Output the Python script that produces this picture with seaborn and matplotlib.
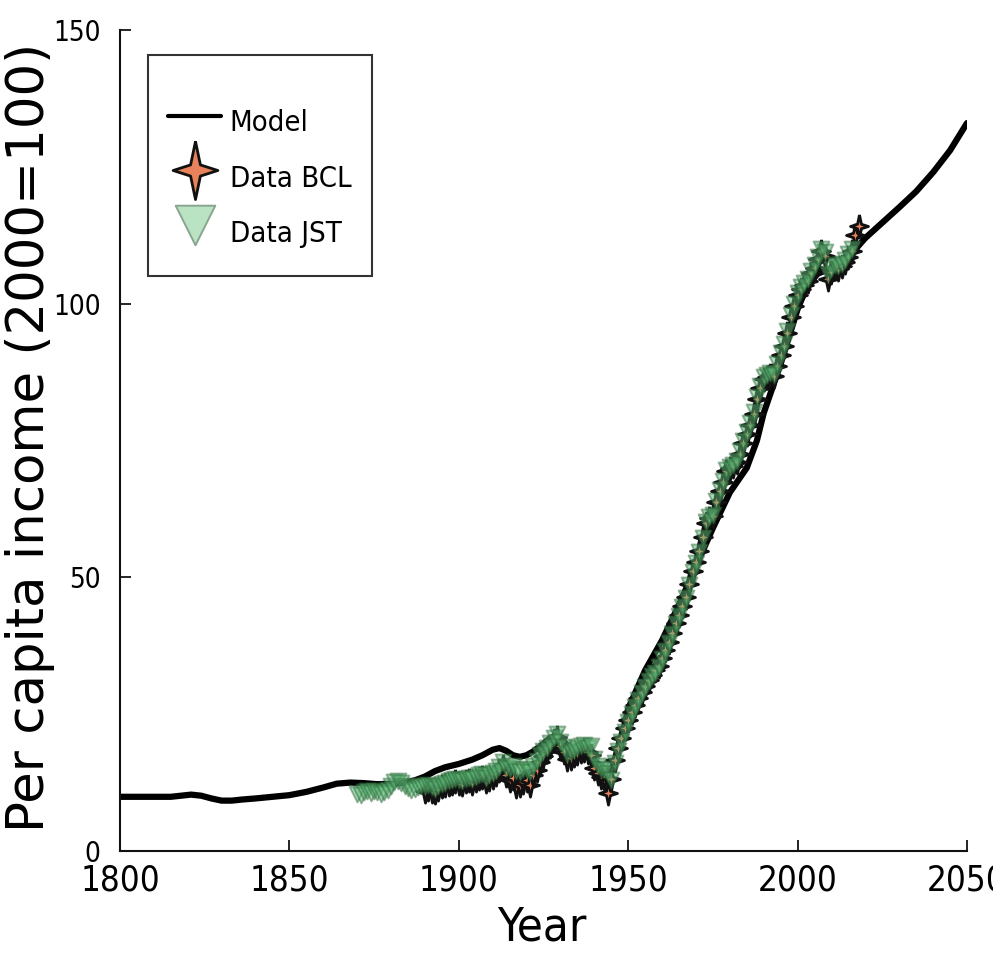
import numpy as np
import pandas as pd
import seaborn as sns
import matplotlib.pyplot as plt

# model path (year, index 2000=100)
model_years = [1800, 1805, 1810, 1815, 1818, 1821, 1824, 1827, 1830, 1833, 1836, 1840, 1845,
               1850, 1855, 1860, 1864, 1868, 1872, 1876, 1880, 1884, 1887, 1890, 1893, 1896,
               1900, 1904, 1907, 1910, 1912, 1914, 1916, 1918, 1920, 1922, 1925, 1927, 1929,
               1931, 1933, 1936, 1939, 1941, 1943, 1945, 1946, 1948, 1950, 1955, 1960, 1965,
               1970, 1975, 1980, 1985, 1988, 1990, 1995, 2000, 2003, 2006, 2010, 2015, 2020,
               2025, 2030, 2035, 2040, 2045, 2050]
model_vals = [9.9, 9.9, 9.9, 9.9, 10.1, 10.3, 10.1, 9.6, 9.2, 9.2, 9.4, 9.6, 9.9,
              10.2, 10.8, 11.6, 12.3, 12.5, 12.4, 12.2, 12.3, 12.5, 12.9, 13.6, 14.6, 15.3,
              15.9, 16.7, 17.5, 18.5, 18.8, 18.3, 17.5, 17.2, 17.5, 18.2, 19.6, 20.7, 21.0,
              20.0, 18.7, 17.8, 17.0, 16.0, 15.0, 14.8, 16.5, 20.5, 26.0, 33.0, 38.5, 45.0,
              52.0, 59.0, 65.5, 70.0, 75.0, 80.0, 89.0, 99.0, 103.5, 105.5, 106.5, 108.5, 112.0,
              114.8, 117.6, 120.5, 124.0, 128.0, 133.0]

# Jorda-Schularick-Taylor data, 1870-2016
jst_years = list(range(1870, 2017))
jst_vals = [10.5, 10.3, 10.8, 11.0, 10.6, 10.9, 10.7, 10.4, 10.8, 11.2,
            11.9, 12.6, 12.8, 12.4, 11.9, 11.5, 11.2, 11.3, 11.6, 11.9,
            11.8, 12.0, 11.6, 11.4, 11.9, 12.3, 12.5, 12.8, 13.0, 13.2,
            12.9, 12.7, 13.2, 13.4, 13.1, 13.5, 13.9, 14.1, 13.4, 13.9,
            14.3, 14.6, 15.3, 16.2, 15.2, 15.0, 15.5, 14.6, 14.4, 15.0,
            14.8, 14.5, 15.6, 16.4, 17.5, 18.3, 18.9, 19.8, 20.6, 21.3,
            20.0, 19.0, 17.8, 18.0, 18.5, 18.8, 19.1, 19.3, 18.9, 19.2,
            16.8, 15.6, 15.0, 14.8, 14.2, 13.0, 16.0, 18.2, 20.0, 21.8,
            23.5, 25.0, 26.3, 27.6, 28.8, 30.0, 31.0, 32.0, 32.6, 33.6,
            35.0, 36.6, 38.0, 39.6, 41.5, 43.0, 44.6, 46.2, 48.6, 51.0,
            52.6, 54.6, 57.2, 60.2, 61.0, 61.4, 64.0, 66.0, 67.6, 69.6,
            70.2, 70.6, 71.2, 73.0, 75.0, 76.6, 78.2, 80.2, 83.0, 85.0,
            86.6, 87.0, 87.4, 87.0, 89.0, 91.0, 92.6, 95.0, 98.0, 100.0,
            102.0, 103.0, 103.8, 104.6, 106.0, 107.0, 108.6, 110.0, 109.4, 105.4,
            106.4, 107.0, 106.8, 107.2, 108.0, 109.0, 110.0]

# BCL data, 1890-2018
bcl_years = list(range(1890, 2019))
bcl_vals = [11.0, 11.4, 11.0, 10.8, 11.3, 11.8, 12.0, 12.3, 12.4, 12.8,
            12.4, 12.2, 12.7, 12.9, 12.5, 13.0, 13.3, 13.6, 12.8, 13.2,
            13.6, 14.0, 14.8, 15.6, 13.8, 13.0, 13.4, 11.8, 12.0, 12.6,
            12.9, 12.0, 13.8, 14.8, 16.2, 17.4, 18.2, 19.2, 20.2, 20.8,
            19.2, 18.0, 16.8, 17.0, 17.5, 17.9, 18.2, 18.4, 18.0, 17.6,
            15.2, 14.2, 13.6, 13.3, 10.6, 13.2, 16.6, 18.8, 20.6, 22.4,
            24.0, 25.4, 26.6, 27.9, 29.0, 30.2, 31.3, 32.2, 33.0, 33.8,
            35.2, 36.8, 38.2, 39.8, 41.6, 43.2, 44.8, 46.4, 48.8, 51.2,
            52.8, 54.8, 57.4, 60.0, 60.8, 61.2, 63.8, 65.8, 67.4, 69.4,
            70.0, 70.4, 71.0, 72.6, 74.6, 76.2, 77.8, 79.8, 82.6, 84.6,
            86.2, 86.6, 87.0, 86.8, 88.6, 90.6, 92.2, 94.6, 97.6, 99.6,
            101.6, 102.6, 103.4, 104.2, 105.6, 106.6, 108.2, 109.6, 108.8, 104.6,
            105.8, 106.6, 106.4, 106.8, 107.6, 108.6, 109.6, 112.6, 114.2]

sns.set_style('ticks')
plt.rcParams['font.family'] = ['DejaVu Sans']
plt.rcParams['font.stretch'] = 'condensed'
plt.rcParams['text.color'] = 'black'
plt.rcParams['axes.labelcolor'] = 'black'
plt.rcParams['xtick.color'] = 'black'
plt.rcParams['ytick.color'] = 'black'

# four pointed star
star4 = [(0, 1.3), (0.22, 0.25), (1, 0), (0.22, -0.25), (0, -1.3),
         (-0.22, -0.25), (-1, 0), (-0.22, 0.25), (0, 1.3)]

fig = plt.figure(figsize=(9.93, 9.72), dpi=100)
ax = fig.add_axes([0.1208, 0.1245, 0.853, 0.8446])

sns.lineplot(x=model_years, y=model_vals, color='black', linewidth=4.5,
             label='Model', ax=ax, zorder=2)
sns.scatterplot(x=bcl_years, y=bcl_vals, marker=star4, s=280, color='#e8825c',
                edgecolor='#111111', linewidth=2.0, label='Data BCL', ax=ax, zorder=3)
sns.scatterplot(x=jst_years, y=jst_vals, marker='v', s=130, color='#5fb878',
                edgecolor='#2f6b3c', linewidth=1.4, alpha=0.5, label='Data JST',
                ax=ax, zorder=4)

ax.set_xlim(1800, 2050)
ax.set_ylim(0, 150)
ax.set_xticks([1800, 1850, 1900, 1950, 2000, 2050])
ax.set_yticks([0, 50, 100, 150])
sns.despine(ax=ax)
for s in ['left', 'bottom']:
    ax.spines[s].set_linewidth(1.5)
    ax.spines[s].set_color('#111111')
ax.tick_params(axis='both', direction='in', length=8, width=1.2)
ax.tick_params(axis='x', labelsize=25, pad=9)
ax.tick_params(axis='y', labelsize=20, pad=14)

ax.set_xlabel('Year', fontsize=34)
ax.xaxis.set_label_coords(0.498, -0.066)
ax.set_ylabel('Per capita income (2000=100)', fontsize=37, fontstretch='normal')
ax.yaxis.set_label_coords(-0.077, 0.504)

leg = ax.legend(loc='upper left', bbox_to_anchor=(0.033, 0.9695), borderaxespad=0,
                fontsize=21, frameon=True, fancybox=False, edgecolor='black',
                markerscale=2.5, handlelength=1.8, handleheight=2.0, handletextpad=0.3,
                labelspacing=0.35, borderpad=0.7, title=' ', title_fontsize=10)
leg.get_frame().set_linewidth(1.5)
hs = leg.legend_handles
hs[0].set_linewidth(3)
hs[2].set_alpha(1)
hs[2].set_facecolor('#b9e3c3')
hs[2].set_edgecolor('#8aa58f')

fig.savefig('out.png', dpi=100)
